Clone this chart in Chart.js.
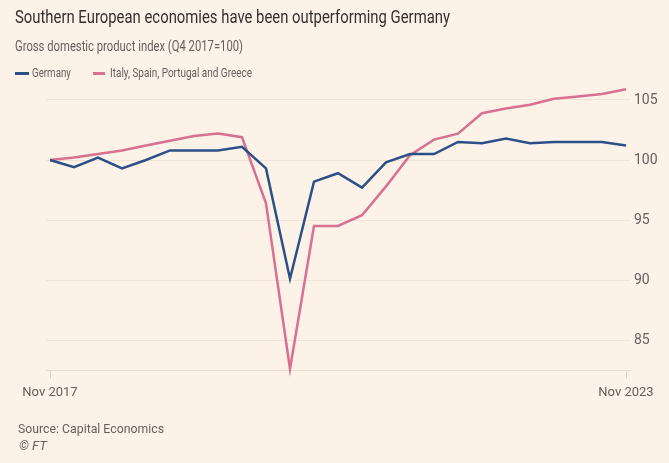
<!DOCTYPE html>
<html>
<head>
<meta charset="utf-8">
<script src="https://cdn.jsdelivr.net/npm/chart.js@4.4.1/dist/chart.umd.min.js"></script>
<style>
  html, body { margin: 0; padding: 0; background: #fdf2e8; }
  body { width: 669px; height: 463px; position: relative; overflow: hidden; font-family: Roboto, "Noto Sans", sans-serif; }
  #wrap { position: absolute; left: 0; top: 0; width: 669px; height: 463px; }
  .txt { position: absolute; white-space: nowrap; transform-origin: 0 50%; }
  #title { left: 15px; top: 5px; font-size: 19px; line-height: 24px; color: #33302e; }
  #sub { left: 15px; top: 37px; font-size: 14px; line-height: 18px; color: #66605c; }
  .leg { top: 64px; font-size: 13px; line-height: 18px; color: #66605c; }
  .key { position: absolute; top: 72px; height: 3px; }
  #source { left: 18px; top: 419px; font-size: 13.5px; line-height: 18px; color: #66605c; }
  #ft { left: 19px; top: 437px; font-size: 13px; line-height: 18px; color: #66605c; font-style: italic; }
</style>
</head>
<body>
<div id="wrap"><canvas id="chart" width="669" height="463"></canvas></div>
<div class="txt" id="title" data-w="435">Southern European economies have been outperforming Germany</div>
<div class="txt" id="sub" data-w="228">Gross domestic product index (Q4 2017=100)</div>
<div class="key" style="left:15px;width:14px;background:#2b5087"></div>
<div class="txt leg" style="left:32px" data-w="39">Germany</div>
<div class="key" style="left:93px;width:12px;background:#d8708f"></div>
<div class="txt leg" style="left:110px" data-w="142">Italy, Spain, Portugal and Greece</div>
<div class="txt" id="source" data-w="146">Source: Capital Economics</div>
<div class="txt" id="ft">© FT</div>
<script>
// quarterly GDP index, Q4 2017 = 100
const quarters = ['Q4 2017','Q1 2018','Q2 2018','Q3 2018','Q4 2018','Q1 2019','Q2 2019','Q3 2019','Q4 2019',
  'Q1 2020','Q2 2020','Q3 2020','Q4 2020','Q1 2021','Q2 2021','Q3 2021','Q4 2021',
  'Q1 2022','Q2 2022','Q3 2022','Q4 2022','Q1 2023','Q2 2023','Q3 2023','Q4 2023'];
const germany = [100, 99.4, 100.2, 99.3, 100.0, 100.8, 100.8, 100.8, 101.1,
  99.3, 90.1, 98.2, 98.9, 97.7, 99.8, 100.5, 100.5,
  101.5, 101.4, 101.8, 101.4, 101.5, 101.5, 101.5, 101.2];
const southern = [100, 100.2, 100.5, 100.8, 101.2, 101.6, 102.0, 102.2, 101.9,
  96.4, 82.6, 94.5, 94.5, 95.4, 97.8, 100.4, 101.7,
  102.2, 103.9, 104.3, 104.6, 105.1, 105.3, 105.5, 105.9];
const xTickPos = [0, 24];
const xTickLabels = ['Nov 2017', 'Nov 2023'];
const yTicks = [85, 90, 95, 100, 105];

// the FT font is narrow, so squeeze the html text to the widths in the picture
document.querySelectorAll('[data-w]').forEach(el => {
  const w = el.getBoundingClientRect().width;
  el.style.transform = 'scaleX(' + (+el.dataset.w / w) + ')';
});

const pts = arr => arr.map((v, i) => ({ x: i, y: v }));
const gridCol = '#f0e3d8';
const textCol = '#66605c';

new Chart(document.getElementById('chart'), {
  type: 'line',
  data: {
    datasets: [
      { label: 'Germany', data: pts(germany), borderColor: '#2b5087', borderWidth: 2.5, pointRadius: 0, tension: 0, clip: false },
      { label: 'Italy, Spain, Portugal and Greece', data: pts(southern), borderColor: '#d8708f', borderWidth: 2.5, pointRadius: 0, tension: 0, clip: false }
    ]
  },
  options: {
    responsive: false,
    animation: false,
    events: [],
    layout: { padding: { left: 46, top: 88, right: 0, bottom: 62 } },
    plugins: { legend: { display: false }, tooltip: { enabled: false } },
    scales: {
      x: {
        type: 'linear',
        min: -4 / 24,
        max: 24 + 4 / 24,
        afterBuildTicks: s => { s.ticks = xTickPos.map(v => ({ value: v })); },
        afterFit: s => { s.height = 31; },
        grid: { drawOnChartArea: false, drawTicks: true, tickLength: 9, color: '#ddd2c8' },
        border: { display: true, color: '#eadccf', width: 1 },
        ticks: {
          padding: 6,
          maxRotation: 0,
          color: textCol,
          font: { family: 'Roboto, "Noto Sans", sans-serif', size: 13 },
          callback: v => xTickLabels[xTickPos.indexOf(v)]
        }
      },
      y: {
        position: 'right',
        min: 82.5,
        max: 106,
        afterBuildTicks: s => { s.ticks = yTicks.map(v => ({ value: v })); },
        afterFit: s => { s.width = 39; },
        grid: { drawTicks: false, color: gridCol, lineWidth: 1 },
        border: { display: false },
        ticks: {
          padding: 4,
          color: textCol,
          font: { family: 'Roboto, "Noto Sans", sans-serif', size: 14 }
        }
      }
    }
  }
});
</script>
</body>
</html>
